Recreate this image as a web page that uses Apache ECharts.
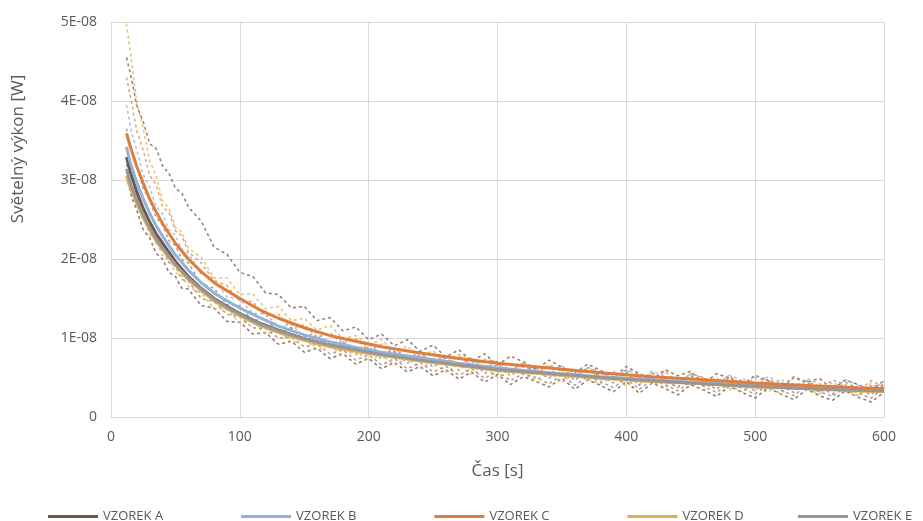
<!DOCTYPE html>
<html lang="cs">
<head>
<meta charset="UTF-8">
<title>Světelný výkon</title>
<script src="https://cdn.jsdelivr.net/npm/echarts@6/dist/echarts.min.js"></script>
<style>
  html, body { margin: 0; padding: 0; background: #fff; }
  #chart { width: 923px; height: 521px; }
</style>
</head>
<body>
<div id="chart"></div>
<script>
// values are in units of 1E-08 W
var UNIT_LABEL = 'E-08';
var Y_TICKS = [0, 1, 2, 3, 4, 5];
var X_TICKS = [0, 100, 200, 300, 400, 500, 600];

// time axis for the averaged (solid) curves
var TIME_S = [12, 15, 20, 25, 30, 35, 40, 50, 60, 70, 80, 90, 100, 115, 130, 150, 170, 190, 210, 240, 270, 300, 340, 380, 420, 460, 500, 540, 580, 600];

var NAMES = ['VZOREK A', 'VZOREK B', 'VZOREK C', 'VZOREK D', 'VZOREK E'];
var COLORS = ['#6e5749', '#91b3d7', '#df7d3d', '#dcb152', '#9b9595'];

var vzorekA = [3.29, 3.10, 2.85, 2.64, 2.47, 2.32, 2.20, 1.97, 1.78, 1.63, 1.50, 1.40, 1.31, 1.19, 1.10, 0.99, 0.91, 0.85, 0.80, 0.72, 0.66, 0.60, 0.55, 0.50, 0.46, 0.42, 0.39, 0.36, 0.34, 0.33];
var vzorekB = [3.42, 3.22, 2.97, 2.76, 2.58, 2.42, 2.29, 2.05, 1.86, 1.70, 1.57, 1.47, 1.38, 1.26, 1.15, 1.04, 0.95, 0.88, 0.82, 0.75, 0.68, 0.62, 0.56, 0.51, 0.47, 0.43, 0.40, 0.37, 0.35, 0.34];
var vzorekC = [3.59, 3.42, 3.17, 2.96, 2.76, 2.60, 2.45, 2.20, 2.00, 1.84, 1.70, 1.60, 1.50, 1.36, 1.25, 1.13, 1.03, 0.96, 0.89, 0.81, 0.74, 0.68, 0.62, 0.56, 0.51, 0.47, 0.43, 0.40, 0.37, 0.36];
var vzorekD = [3.05, 2.90, 2.70, 2.52, 2.37, 2.23, 2.12, 1.92, 1.74, 1.60, 1.47, 1.37, 1.28, 1.16, 1.07, 0.97, 0.89, 0.83, 0.78, 0.71, 0.65, 0.59, 0.54, 0.49, 0.45, 0.42, 0.38, 0.36, 0.33, 0.32];
var vzorekE = [3.14, 2.96, 2.74, 2.56, 2.40, 2.26, 2.14, 1.93, 1.76, 1.62, 1.49, 1.39, 1.30, 1.18, 1.09, 0.99, 0.91, 0.85, 0.79, 0.72, 0.66, 0.60, 0.55, 0.50, 0.46, 0.42, 0.39, 0.36, 0.34, 0.33];

// time axis for the single measurements (dashed curves)
var TIME_D = [12, 16, 20, 25, 30, 35, 40, 45, 50, 55,
  60, 70, 80, 90, 100, 110, 120, 130, 140, 150,
  160, 170, 180, 190, 200, 210, 220, 230, 240, 250,
  260, 270, 280, 290, 300, 310, 320, 330, 340, 350,
  360, 370, 380, 390, 400, 410, 420, 430, 440, 450,
  460, 470, 480, 490, 500, 510, 520, 530, 540, 550,
  560, 570, 580, 590, 600];

var DASH_COLORS = ['#dcb152', '#7a5c48', '#e58a4a', '#8f8a8a', '#6e5749', '#d9ae55', '#91b3d7', '#a08272'];

var mer1 = [4.98, 4.50, 3.98, 3.66, 3.24, 3.06, 2.74, 2.64, 2.40, 2.34,
  2.14, 2.02, 1.76, 1.76, 1.55, 1.56, 1.37, 1.40, 1.22, 1.25,
  1.10, 1.16, 0.99, 1.03, 0.91, 0.98, 0.82, 0.90, 0.76, 0.84,
  0.70, 0.79, 0.74, 0.62, 0.70, 0.58, 0.69, 0.55, 0.64, 0.59,
  0.49, 0.62, 0.47, 0.58, 0.52, 0.41, 0.57, 0.44, 0.38, 0.54,
  0.43, 0.50, 0.34, 0.49, 0.40, 0.31, 0.48, 0.37, 0.45, 0.30,
  0.44, 0.36, 0.27, 0.43, 0.33];
var mer2 = [4.55, 4.28, 3.94, 3.74, 3.46, 3.40, 3.18, 3.08, 2.90, 2.83,
  2.66, 2.48, 2.15, 2.06, 1.83, 1.78, 1.57, 1.55, 1.38, 1.40,
  1.22, 1.26, 1.09, 1.14, 0.98, 1.05, 0.90, 0.98, 0.83, 0.91,
  0.76, 0.85, 0.71, 0.80, 0.66, 0.77, 0.70, 0.60, 0.72, 0.63,
  0.56, 0.67, 0.59, 0.50, 0.64, 0.55, 0.47, 0.60, 0.52, 0.58,
  0.42, 0.55, 0.49, 0.40, 0.53, 0.46, 0.37, 0.51, 0.44, 0.49,
  0.35, 0.47, 0.41, 0.34, 0.46];
var mer3 = [4.30, 3.98, 3.62, 3.38, 3.06, 2.94, 2.66, 2.59, 2.36, 2.29,
  2.09, 1.95, 1.73, 1.66, 1.47, 1.46, 1.27, 1.30, 1.12, 1.17,
  1.01, 1.07, 0.92, 0.99, 0.84, 0.92, 0.78, 0.86, 0.73, 0.81,
  0.68, 0.77, 0.64, 0.73, 0.70, 0.59, 0.68, 0.55, 0.66, 0.60,
  0.52, 0.63, 0.57, 0.48, 0.60, 0.54, 0.46, 0.58, 0.43, 0.55,
  0.50, 0.41, 0.53, 0.39, 0.50, 0.46, 0.37, 0.49, 0.44, 0.35,
  0.47, 0.41, 0.33, 0.46, 0.38];
var mer4 = [3.65, 3.38, 3.18, 2.89, 2.75, 2.52, 2.43, 2.23, 2.17, 1.99,
  1.95, 1.69, 1.63, 1.42, 1.41, 1.22, 1.25, 1.07, 1.13, 0.96,
  1.03, 0.87, 0.95, 0.79, 0.89, 0.73, 0.83, 0.68, 0.79, 0.63,
  0.75, 0.59, 0.71, 0.55, 0.67, 0.52, 0.64, 0.58, 0.49, 0.62,
  0.46, 0.59, 0.52, 0.43, 0.57, 0.40, 0.55, 0.48, 0.37, 0.52,
  0.45, 0.35, 0.50, 0.42, 0.33, 0.48, 0.40, 0.31, 0.46, 0.38,
  0.29, 0.44, 0.36, 0.28, 0.42];
var mer5 = [3.05, 2.78, 2.62, 2.37, 2.27, 2.07, 2.00, 1.83, 1.78, 1.63,
  1.62, 1.41, 1.38, 1.21, 1.20, 1.05, 1.07, 0.92, 0.96, 0.82,
  0.87, 0.74, 0.80, 0.67, 0.74, 0.61, 0.69, 0.57, 0.64, 0.52,
  0.60, 0.48, 0.57, 0.44, 0.54, 0.41, 0.51, 0.45, 0.38, 0.49,
  0.35, 0.47, 0.40, 0.32, 0.45, 0.30, 0.43, 0.36, 0.28, 0.41,
  0.34, 0.26, 0.39, 0.31, 0.24, 0.37, 0.29, 0.22, 0.35, 0.27,
  0.21, 0.33, 0.25, 0.19, 0.31];
var mer6 = [3.10, 2.91, 2.67, 2.53, 2.31, 2.23, 2.05, 1.99, 1.83, 1.79,
  1.65, 1.57, 1.37, 1.36, 1.19, 1.21, 1.05, 1.09, 0.94, 0.99,
  0.85, 0.91, 0.77, 0.84, 0.71, 0.79, 0.66, 0.74, 0.62, 0.70,
  0.57, 0.66, 0.54, 0.63, 0.50, 0.60, 0.54, 0.47, 0.57, 0.44,
  0.55, 0.48, 0.42, 0.53, 0.39, 0.50, 0.45, 0.37, 0.48, 0.42,
  0.34, 0.46, 0.40, 0.32, 0.44, 0.38, 0.30, 0.43, 0.36, 0.29,
  0.41, 0.34, 0.27, 0.40, 0.32];
var mer7 = [3.95, 3.60, 3.38, 3.07, 2.91, 2.67, 2.57, 2.37, 2.30, 2.12,
  2.07, 1.81, 1.73, 1.52, 1.49, 1.31, 1.31, 1.14, 1.17, 1.02,
  1.07, 0.92, 0.99, 0.85, 0.93, 0.78, 0.87, 0.73, 0.82, 0.68,
  0.78, 0.64, 0.74, 0.60, 0.70, 0.57, 0.67, 0.61, 0.54, 0.65,
  0.51, 0.62, 0.56, 0.48, 0.60, 0.45, 0.58, 0.52, 0.43, 0.55,
  0.49, 0.41, 0.53, 0.46, 0.39, 0.51, 0.44, 0.37, 0.49, 0.42,
  0.36, 0.47, 0.40, 0.34, 0.45];
var mer8 = [3.20, 2.93, 2.80, 2.52, 2.43, 2.20, 2.15, 1.95, 1.91, 1.74,
  1.72, 1.50, 1.46, 1.30, 1.27, 1.13, 1.12, 1.00, 1.01, 0.89,
  0.92, 0.80, 0.85, 0.72, 0.79, 0.66, 0.74, 0.61, 0.69, 0.57,
  0.64, 0.53, 0.61, 0.49, 0.58, 0.46, 0.55, 0.50, 0.42, 0.53,
  0.40, 0.51, 0.45, 0.37, 0.49, 0.35, 0.47, 0.41, 0.33, 0.45,
  0.39, 0.31, 0.43, 0.36, 0.29, 0.41, 0.34, 0.27, 0.40, 0.32,
  0.26, 0.38, 0.30, 0.24, 0.37];

var FONT = '"Open Sans", "Noto Sans", sans-serif';
var TEXT_COLOR = '#595959';

function pairs(times, vals) {
  return times.map(function (t, i) { return [t, vals[i]]; });
}

var series = [];
[mer1, mer2, mer3, mer4, mer5, mer6, mer7, mer8].forEach(function (vals, i) {
  series.push({
    name: 'mereni' + (i + 1),
    type: 'line',
    data: pairs(TIME_D, vals),
    symbol: 'none',
    silent: true,
    z: 1,
    lineStyle: { color: DASH_COLORS[i], width: 1.5, type: [3, 3], opacity: 0.8 }
  });
});
[vzorekA, vzorekB, vzorekC, vzorekD, vzorekE].forEach(function (vals, i) {
  series.push({
    name: NAMES[i],
    type: 'line',
    data: pairs(TIME_S, vals),
    symbol: 'none',
    z: 3,
    itemStyle: { color: COLORS[i] },
    lineStyle: { color: COLORS[i], width: 3 }
  });
});

var legendBase = {
  top: 505,
  icon: 'rect',
  itemWidth: 50,
  itemHeight: 3,
  itemGap: 78,
  selectedMode: false,
  textStyle: { color: TEXT_COLOR, fontSize: 13, fontFamily: FONT }
};

var chart = echarts.init(document.getElementById('chart'));
chart.setOption({
  animation: false,
  backgroundColor: '#ffffff',
  grid: { left: 111, right: 39, top: 22, bottom: 104 },
  legend: [
    Object.assign({}, legendBase, { left: 43, data: NAMES.slice(0, 4) }),
    Object.assign({}, legendBase, { left: 793, data: NAMES.slice(4) })
  ],
  graphic: [{
    type: 'text',
    x: 18,
    y: 149,
    rotation: Math.PI / 2,
    style: {
      text: 'Světelný výkon [W]',
      fill: TEXT_COLOR,
      font: '17px ' + FONT,
      textAlign: 'center',
      textVerticalAlign: 'middle'
    }
  }],
  xAxis: {
    type: 'value',
    min: X_TICKS[0],
    max: X_TICKS[X_TICKS.length - 1],
    interval: 100,
    name: 'Čas [s]',
    nameLocation: 'middle',
    nameGap: 46,
    nameTextStyle: { color: TEXT_COLOR, fontSize: 17, fontFamily: FONT },
    axisLine: { show: true, lineStyle: { color: '#d9d9d9' } },
    axisTick: { show: false },
    axisLabel: { color: TEXT_COLOR, fontSize: 14, fontFamily: FONT, margin: 13 },
    splitLine: { show: true, lineStyle: { color: '#d9d9d9' } }
  },
  yAxis: {
    type: 'value',
    min: Y_TICKS[0],
    max: Y_TICKS[Y_TICKS.length - 1],
    interval: 1,
    axisLine: { show: false },
    axisTick: { show: false },
    axisLabel: {
      color: TEXT_COLOR, fontSize: 14, fontFamily: FONT, margin: 14,
      formatter: function (v) { return v === 0 ? '0' : Math.round(v) + UNIT_LABEL; }
    },
    splitLine: { show: true, lineStyle: { color: '#d9d9d9' } }
  },
  series: series
});
</script>
</body>
</html>
